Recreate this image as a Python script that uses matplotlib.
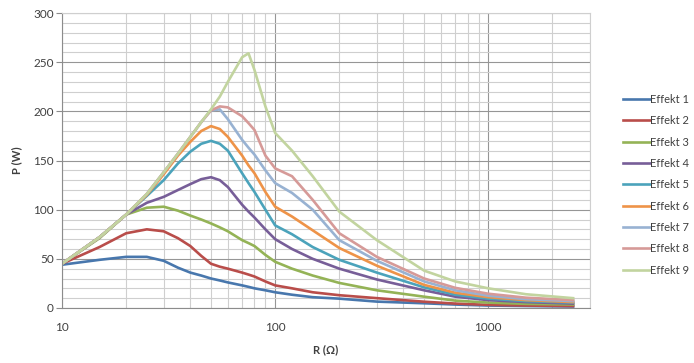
import matplotlib
matplotlib.use("Agg")
import matplotlib.pyplot as plt
from matplotlib.ticker import FixedLocator, NullFormatter

plt.rcParams['font.family'] = ['Lato', 'DejaVu Sans']

R = [10, 15, 20, 25, 30, 35, 40, 45, 50, 55, 60, 70, 75, 80, 90, 100, 120, 150, 200, 300, 500, 700, 1000, 1500, 2500]

effekt_1 = [44, 49, 52, 52, 48, 41, 36, 33, 30, 28, 26, 23, 21.5, 20, 18, 16, 13.5, 11, 9.5, 6.5, 4.8, 3.5, 2.5, 2, 1.5]
effekt_2 = [45, 62, 76, 80, 78, 71, 63, 53, 45, 42, 40, 36, 34, 32, 27, 23, 20, 16, 13, 10, 6.4, 4.5, 3.2, 2.5, 2]
effekt_3 = [45, 71, 95, 102, 103, 99, 94, 90, 86, 82, 78, 69, 66, 63, 54, 47, 40, 33, 25.5, 18, 11.5, 7.5, 5.5, 4.2, 3.5]
effekt_4 = [45, 72, 95, 107, 113, 120, 126, 131, 133, 130, 123, 105, 98, 92, 80, 70, 60, 50, 40, 29, 18, 11.5, 8, 6, 4.5]
effekt_5 = [45, 72, 95, 114, 130, 147, 159, 167, 170, 167, 160, 137, 127, 118, 100, 84, 75, 62, 49, 36, 21, 13.5, 9.5, 7, 5.5]
effekt_6 = [45, 72, 95, 115, 136, 155, 169, 180, 185, 182, 174, 155, 145, 137, 118, 103, 93, 79, 61, 43, 23.5, 15.5, 11, 8, 6]
effekt_7 = [45, 72, 95, 116, 138, 157, 174, 189, 201, 202, 192, 171, 163, 156, 140, 127, 117, 100, 69, 48, 27, 18, 12.5, 9, 7]
effekt_8 = [45, 72, 95, 116, 138, 157, 174, 189, 201, 205, 204, 195, 188, 181, 155, 142, 134, 110, 76, 52, 30, 20.5, 14.5, 10.5, 8]
effekt_9 = [45, 72, 95, 116, 138, 157, 174, 189, 202, 215, 230, 255, 259, 242, 205, 178, 160, 134, 98, 69, 38, 27, 20, 14, 10]

series = [effekt_1, effekt_2, effekt_3, effekt_4, effekt_5, effekt_6, effekt_7, effekt_8, effekt_9]
labels = ["Effekt %d" % i for i in range(1, 10)]
colors = ["#4877AD", "#B94D4A", "#94B356", "#775E98", "#4BA3BB",
          "#EE9348", "#98B2D2", "#D69A98", "#C2D49F"]

fig = plt.figure(figsize=(6.94, 3.63), dpi=100)
ax = fig.add_axes([62 / 694, 1 - 308 / 363, 528 / 694, 295 / 363])

for y, lab, c in zip(series, labels, colors):
    ax.plot(R, y, color=c, lw=1.9, label=lab, solid_joinstyle='round')

ax.set_xscale('log')
ax.set_xlim(10, 3000)
ax.set_ylim(0, 300)

ax.xaxis.set_major_locator(FixedLocator([10, 100, 1000]))
ax.set_xticklabels(["10", "100", "1000"])
minor_x = [m * d for d in (10, 100, 1000) for m in range(2, 10) if m * d <= 3000]
ax.xaxis.set_minor_locator(FixedLocator(minor_x))
ax.xaxis.set_minor_formatter(NullFormatter())
ax.set_yticks(range(0, 301, 50))
ax.yaxis.set_minor_locator(FixedLocator(range(0, 301, 10)))

ax.grid(which='major', color='#969696', lw=0.8)
ax.grid(which='minor', color='#cfcfcf', lw=0.8)
ax.set_axisbelow(True)

for s in ('top', 'right'):
    ax.spines[s].set_color('#cfcfcf')
    ax.spines[s].set_linewidth(0.8)
for s in ('left', 'bottom'):
    ax.spines[s].set_color('#8c8c8c')
    ax.spines[s].set_linewidth(0.8)

ax.tick_params(axis='y', which='major', length=4, color='#8c8c8c', labelsize=8.5,
               labelcolor='#404040', pad=2)
ax.tick_params(axis='y', which='minor', length=0)
ax.tick_params(axis='x', which='major', length=0, labelsize=8.5, labelcolor='#404040', pad=10)
ax.tick_params(axis='x', which='minor', length=0)

ax.set_xlabel("R (Ω)", fontsize=8, fontweight='bold', color='#404040', labelpad=8)
ax.set_ylabel("P (W)", fontsize=8, fontweight='bold', color='#404040', labelpad=8)

leg = fig.legend(loc='upper left', bbox_to_anchor=(613 / 694, 1 - 84 / 363),
                 frameon=False, fontsize=8, handlelength=2.4, handletextpad=0.05,
                 labelspacing=0.93, labelcolor='#404040')

fig.savefig("out.png", dpi=100, facecolor='white')
